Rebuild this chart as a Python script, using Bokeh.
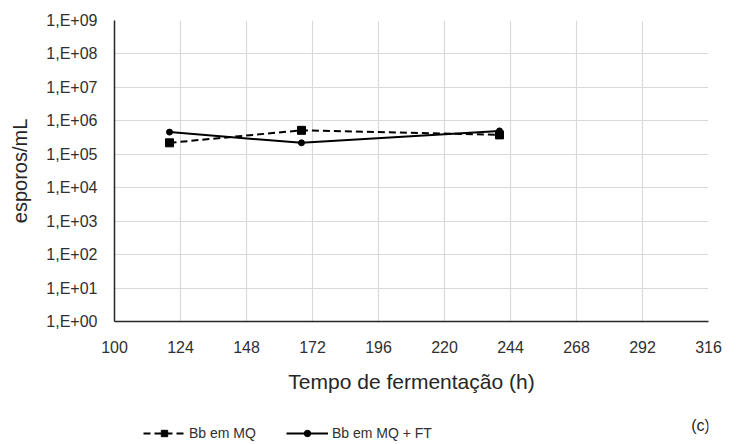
from bokeh.plotting import figure
from bokeh.models import FixedTicker, Legend, LegendItem, Label
from bokeh.layouts import column
from bokeh.embed import file_html
from bokeh.resources import INLINE

# data
tempo = [120, 168, 240]
bb_mq = [2.2e5, 5.2e5, 3.8e5]
bb_mq_ft = [4.6e5, 2.2e5, 5.0e5]
x_ticks = [100, 124, 148, 172, 196, 220, 244, 268, 292, 316]
y_exps = list(range(0, 10))
y_ticks = [10.0 ** e for e in y_exps]
y_labels = ["1,E+%02d" % e for e in y_exps]
series_names = ["Bb em MQ", "Bb em MQ + FT"]

FONT = "Liberation Sans"
TXT = "#303030"

p = figure(width=735, height=412, output_backend="svg", toolbar_location=None,
           y_axis_type="log", x_range=(100, 316), y_range=(1, 1e9),
           min_border_left=114, min_border_right=27, min_border_top=20,
           min_border_bottom=91)
p.outline_line_color = None

p.xaxis.ticker = FixedTicker(ticks=x_ticks)
p.yaxis.ticker = FixedTicker(ticks=y_ticks)
p.yaxis.major_label_overrides = {t: l for t, l in zip(y_ticks, y_labels)}
for ax in (p.xaxis[0], p.yaxis[0]):
    ax.major_tick_line_color = None
    ax.minor_tick_line_color = None
    ax.axis_line_color = "#262626"
    ax.axis_line_width = 1.5
    ax.major_label_text_font = FONT
    ax.major_label_text_font_size = "16px"
    ax.major_label_text_color = TXT
    ax.axis_label_text_font = FONT
    ax.axis_label_text_font_style = "normal"
    ax.axis_label_text_color = "#262626"
p.yaxis.major_label_standoff = 11
p.xaxis.major_label_standoff = 13
p.xaxis.axis_label = "Tempo de fermentação (h)"
p.xaxis.axis_label_text_font_size = "21px"
p.xaxis.axis_label_standoff = 14
p.yaxis.axis_label = "esporos/mL"
p.yaxis.axis_label_text_font_size = "20px"
p.yaxis.axis_label_standoff = 12

p.xgrid.ticker = FixedTicker(ticks=x_ticks)
p.ygrid.ticker = FixedTicker(ticks=y_ticks)
p.grid.grid_line_color = "#d9d9d9"
p.grid.grid_line_width = 1.2
p.ygrid.minor_grid_line_color = None

p.line(tempo, bb_mq, line_color="black", line_width=2, line_dash="7 4")
p.scatter(tempo, bb_mq, marker="square", size=8, color="black")
p.line(tempo, bb_mq_ft, line_color="black", line_width=2)
p.scatter(tempo, bb_mq_ft, marker="circle", size=6, color="black")

# legend strip below the chart (same series, kept out of its visible range)
q = figure(width=735, height=30, output_backend="svg", toolbar_location=None,
           x_axis_location=None, y_axis_location=None,
           min_border_left=114, min_border_right=27, min_border_top=0,
           min_border_bottom=0, x_range=(0, 1), y_range=(0, 1))
q.outline_line_color = None
q.grid.visible = False
l1 = q.line(tempo, bb_mq, line_color="black", line_width=2, line_dash="7 4")
m1 = q.scatter(tempo, bb_mq, marker="square", size=8, color="black")
l2 = q.line(tempo, bb_mq_ft, line_color="black", line_width=2)
m2 = q.scatter(tempo, bb_mq_ft, marker="circle", size=6, color="black")

legend = Legend(items=[LegendItem(label=series_names[0], renderers=[l1, m1]),
                       LegendItem(label=series_names[1], renderers=[l2, m2])],
                orientation="horizontal", location=(29, 1),
                label_text_font=FONT, label_text_font_size="14px",
                label_text_color=TXT, glyph_width=42, glyph_height=16,
                label_height=16, spacing=30,
                padding=0, margin=0, border_line_color=None,
                background_fill_alpha=0, label_standoff=4)
q.add_layout(legend, "center")
q.add_layout(Label(x=586, y=17, x_units="screen", y_units="screen", text="(c)",
                   text_font=FONT, text_font_size="16px", text_color="#262626",
                   text_align="center", text_baseline="middle"))

layout = column(p, q, spacing=0)
open("out.html", "w").write(file_html(layout, INLINE))
